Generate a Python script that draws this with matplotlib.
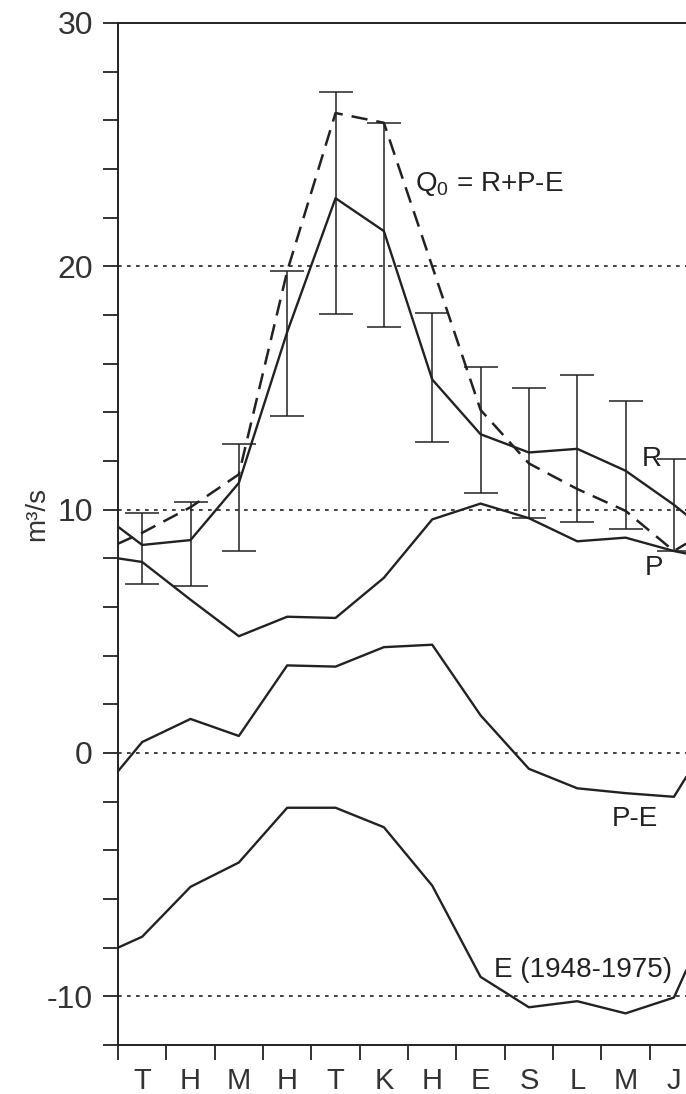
import matplotlib
matplotlib.use("Agg")
import matplotlib.pyplot as plt
from matplotlib.ticker import MultipleLocator, FixedLocator, NullFormatter, FixedFormatter

plt.rcParams['font.family'] = ['Liberation Sans Narrow', 'Liberation Sans', 'DejaVu Sans']
plt.rcParams['mathtext.fontset'] = 'custom'
plt.rcParams['mathtext.rm'] = 'Liberation Sans'
plt.rcParams['mathtext.it'] = 'Liberation Sans'
plt.rcParams['mathtext.default'] = 'regular'
plt.rcParams['axes.unicode_minus'] = False

months = ['T', 'H', 'M', 'H', 'T', 'K', 'H', 'E', 'S', 'L', 'M', 'J']

# values at the left edge, the 12 month centres, and the right edge (clipped)
R = [9.3, 8.55, 8.75, 11.1, 17.3, 22.8, 21.45, 15.35, 13.1, 12.35, 12.5, 11.6, 10.2, 9.8]
Q0 = [8.6, 9.05, 10.1, 11.45, 19.8, 26.3, 25.9, 20.0, 14.1, 11.9, 10.85, 9.95, 8.3, 8.6]
P = [8.0, 7.85, 6.3, 4.8, 5.6, 5.55, 7.2, 9.6, 10.25, 9.65, 8.7, 8.85, 8.3, 8.2]
PE = [-0.75, 0.45, 1.4, 0.7, 3.6, 3.55, 4.35, 4.45, 1.55, -0.65, -1.45, -1.65, -1.8, -1.0]
E = [-8.0, -7.55, -5.5, -4.5, -2.25, -2.25, -3.05, -5.45, -9.2, -10.45, -10.2, -10.7, -10.05, -8.95]

# error bar ends (monthly)
err_top = [9.85, 10.3, 12.7, 19.8, 27.15, 25.9, 18.1, 15.85, 15.0, 15.55, 14.45, 12.1]
err_bot = [6.95, 6.85, 8.3, 13.85, 18.05, 17.5, 12.8, 10.7, 9.65, 9.5, 9.2, 8.3]

x_left, x_right = 0, 11.75
centers = [i + 0.5 for i in range(len(months))]
xs = [x_left] + centers + [x_right]

ink = '#222222'

fig = plt.figure(figsize=(6.86, 10.94), dpi=100)
ax = fig.add_axes([118 / 686, 1 - 1045 / 1094, 1 - 118 / 686, (1045 - 23) / 1094])

for yv in [-10, 0, 10, 20]:
    ax.axhline(yv, color=ink, lw=1.2, linestyle=(0, (2.2, 3.2)), zorder=1)

mid = [(t + b) / 2 for t, b in zip(err_top, err_bot)]
half = [(t - b) / 2 for t, b in zip(err_top, err_bot)]
ax.errorbar(centers, mid, yerr=half, fmt='none', ecolor=ink, elinewidth=1.1,
            capsize=12.5, capthick=1.1, zorder=2)

ax.plot(xs, R, color=ink, lw=1.7, zorder=3)
ax.plot(xs, Q0, color=ink, lw=1.8, dashes=(6.5, 3.6), zorder=3)
ax.plot(xs, P, color=ink, lw=1.7, zorder=3)
ax.plot(xs, PE, color=ink, lw=1.7, zorder=3)
ax.plot(xs, E, color=ink, lw=1.7, zorder=3)

fs = 20
ax.text(6.15, 23.4, 'Q$_0$ = R+P-E', fontsize=fs, color=ink, ha='left', va='center')
ax.text(11.05, 12.1, 'R', fontsize=fs, color=ink, ha='center', va='center')
ax.text(11.08, 7.6, 'P', fontsize=fs, color=ink, ha='center', va='center')
ax.text(10.7, -2.7, 'P-E', fontsize=fs, color=ink, ha='center', va='center')
ax.text(9.62, -8.9, 'E (1948-1975)', fontsize=fs, color=ink, ha='center', va='center')

ax.set_xlim(x_left, x_right)
ax.set_ylim(-12, 30)

ax.yaxis.set_major_locator(MultipleLocator(10))
ax.yaxis.set_minor_locator(MultipleLocator(2))
ax.tick_params(axis='y', which='major', direction='out', length=11, width=1.3,
               color=ink, labelsize=23, labelcolor='#333333', pad=7)
ax.tick_params(axis='y', which='minor', direction='out', length=11, width=1.3, color=ink)

ax.xaxis.set_major_locator(FixedLocator(list(range(12))))
ax.xaxis.set_major_formatter(NullFormatter())
ax.xaxis.set_minor_locator(FixedLocator(centers))
ax.xaxis.set_minor_formatter(FixedFormatter(months))
ax.tick_params(axis='x', which='major', direction='out', length=11, width=1.3, color=ink)
ax.tick_params(axis='x', which='minor', length=0, labelsize=21, labelcolor='#333333', pad=16)

ax.spines['right'].set_visible(False)
for s in ['left', 'top', 'bottom']:
    ax.spines[s].set_color(ink)
    ax.spines[s].set_linewidth(1.4)

ax.set_ylabel('m³/s', fontsize=20, color='#333333')
ax.yaxis.set_label_coords(-0.12, 0.52)

fig.savefig('out.png', dpi=100)
